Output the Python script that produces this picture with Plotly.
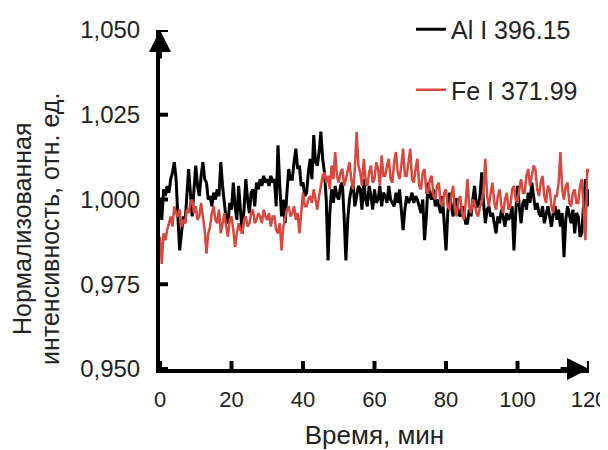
import plotly.graph_objects as go

# ---- data ----
time_step = 0.5
al_values = [
    1.000, 0.994, 1.003, 1.001, 1.004, 1.002, 1.006, 1.008, 1.011, 1.006,
    0.995, 0.985, 0.990, 0.995, 0.993, 1.001, 1.009, 1.002, 0.995, 1.003,
    1.010, 1.004, 1.001, 1.007, 1.011, 1.006, 1.005, 1.000, 1.001, 0.998,
    1.002, 1.000, 1.003, 1.001, 1.011, 1.004, 0.998, 0.994, 0.993, 0.999,
    0.997, 1.005, 0.998, 0.994, 1.004, 0.996, 0.990, 0.997, 1.006, 1.000,
    0.996, 1.002, 1.003, 0.998, 1.005, 1.003, 1.006, 1.004, 1.007, 1.005,
    1.006, 1.004, 1.007, 1.005, 1.006, 0.998, 1.016, 1.004, 0.995, 1.000,
    0.993, 1.002, 1.009, 1.006, 1.006, 1.011, 1.015, 1.009, 1.010, 1.004,
    1.005, 1.001, 1.002, 1.008, 1.012, 1.006, 1.019, 1.011, 1.010, 1.014,
    1.020, 1.012, 1.008, 1.000, 0.982, 0.996, 1.003, 0.999, 1.004, 1.001,
    1.000, 1.004, 1.005, 0.995, 0.982, 0.994, 1.000, 1.003, 1.005, 0.998,
    1.001, 1.004, 1.003, 0.997, 1.006, 1.000, 0.998, 1.004, 1.001, 0.997,
    1.003, 0.999, 1.000, 1.004, 0.998, 1.002, 1.001, 0.999, 1.004, 1.000,
    0.999, 0.998, 1.002, 0.999, 1.003, 0.997, 0.991, 0.997, 1.001, 0.999,
    1.000, 1.002, 0.999, 1.001, 1.000, 0.998, 0.996, 1.000, 0.988, 0.995,
    1.005, 1.001, 1.000, 1.003, 0.998, 1.000, 0.998, 0.996, 1.001, 0.994,
    0.985, 0.996, 1.002, 0.998, 0.995, 1.000, 1.000, 0.996, 0.995, 0.998,
    0.996, 0.993, 0.993, 0.997, 0.995, 1.000, 1.004, 0.998, 0.998, 1.001,
    1.008, 0.999, 0.993, 0.997, 0.998, 0.995, 0.996, 0.993, 0.990, 0.995,
    0.993, 0.997, 0.995, 0.992, 0.996, 0.994, 0.995, 0.998, 0.985, 0.996,
    1.004, 0.998, 0.993, 0.999, 1.000, 0.997, 1.002, 0.999, 1.005, 1.001,
    0.997, 0.999, 0.996, 0.995, 0.998, 0.993, 0.996, 0.998, 0.995, 0.992,
    0.996, 0.998, 0.994, 0.997, 0.992, 0.996, 0.983, 0.994, 0.998, 0.995,
    0.993, 0.997, 0.990, 0.996, 0.995, 0.989, 0.990, 0.999, 1.006, 0.998,
    1.003,
]
fe_values = [
    0.989, 0.981, 0.990, 0.988, 0.991, 0.993, 0.995, 0.992, 0.998, 0.996,
    0.995, 0.997, 0.992, 0.994, 0.993, 0.997, 0.996, 0.999, 1.000, 0.996,
    0.998, 0.994, 0.995, 0.999, 0.995, 0.991, 0.984, 0.990, 0.992, 0.996,
    0.998, 0.994, 0.993, 0.997, 0.990, 0.993, 0.996, 0.992, 0.989, 0.994,
    0.995, 0.991, 0.986, 0.990, 0.993, 0.991, 0.990, 0.994, 0.995, 0.992,
    0.993, 0.996, 0.997, 0.993, 0.994, 0.996, 0.995, 0.993, 0.997, 0.995,
    0.994, 0.996, 0.992, 0.995, 0.995, 0.991, 0.990, 0.993, 0.985, 0.992,
    0.995, 0.997, 0.998, 0.995, 0.996, 0.998, 0.994, 0.996, 0.990, 0.997,
    1.002, 0.998, 0.998, 1.000, 1.001, 0.999, 1.003, 1.000, 0.997, 1.001,
    1.004, 1.007, 1.008, 1.005, 1.007, 1.003, 1.010, 1.006, 1.014, 1.007,
    1.005, 1.008, 1.009, 1.004, 1.006, 1.009, 1.011, 1.006, 1.003, 1.009,
    1.020, 1.010, 1.008, 1.004, 1.012, 1.006, 1.004, 1.008, 1.010, 1.005,
    1.006, 1.011, 1.009, 1.004, 1.013, 1.007, 1.007, 1.010, 1.012, 1.006,
    1.005, 1.011, 1.014, 1.008, 1.006, 1.010, 1.015, 1.007, 1.007, 1.011,
    1.015, 1.006, 1.005, 1.009, 1.012, 1.004, 1.003, 1.008, 1.009, 1.002,
    1.002, 1.006, 1.007, 1.001, 1.000, 1.004, 1.005, 0.999, 0.998, 1.002,
    1.003, 0.998, 0.997, 1.001, 1.004, 0.997, 0.995, 1.000, 1.001, 0.996,
    0.994, 0.999, 1.006, 0.998, 0.996, 1.000, 0.999, 0.996, 0.995, 0.998,
    0.999, 1.003, 1.012, 1.001, 0.998, 1.002, 1.005, 0.999, 0.997, 1.001,
    1.003, 0.998, 0.996, 1.000, 1.002, 0.997, 0.998, 1.003, 1.004, 1.000,
    0.999, 1.003, 1.006, 1.002, 1.002, 1.007, 1.009, 1.004, 1.007, 1.010,
    1.009, 1.003, 1.001, 1.005, 1.007, 1.001, 0.999, 1.004, 1.003, 0.998,
    0.996, 1.001, 1.001, 1.005, 1.014, 1.003, 1.000, 1.004, 1.005, 0.999,
    0.998, 1.002, 1.003, 0.999, 0.999, 1.004, 1.006, 0.997, 0.988, 1.009,
    1.008,
]
time_min = [i * time_step for i in range(len(al_values))]

series_names = ["Al I 396.15", "Fe I 371.99"]
series_colors = ["#000000", "#d9483f"]

x_ticks = [0, 20, 40, 60, 80, 100, 120]
y_ticks = [0.950, 0.975, 1.000, 1.025, 1.050]
y_tick_labels = ["0,950", "0,975", "1,000", "1,025", "1,050"]

x_title = "Время, мин"
y_title_lines = ["Нормализованная", "интенсивность, отн. ед."]

FONT = "Liberation Sans, Arial, sans-serif"
TXT = "#222222"

fig = go.Figure()
fig.add_trace(go.Scatter(x=time_min, y=al_values, mode="lines", name=series_names[0],
                         line=dict(color=series_colors[0], width=3), legendgroup="a"))
fig.add_trace(go.Scatter(x=time_min, y=fe_values, mode="lines", name=series_names[1],
                         line=dict(color=series_colors[1], width=2.5), legendgroup="b"))

# crossing ticks
shapes = []
for v in y_ticks:
    shapes.append(dict(type="line", xref="x", yref="y", xsizemode="pixel", xanchor=0,
                       x0=-8, x1=8, y0=v, y1=v, line=dict(color="black", width=4)))
for v in x_ticks:
    shapes.append(dict(type="line", xref="x", yref="y", ysizemode="pixel", yanchor=0.95,
                       y0=-8, y1=8, x0=v, x1=v, line=dict(color="black", width=4)))

annotations = [
    dict(x=0, y=1.05, xref="x", yref="y", ax=0, ay=30, showarrow=True, arrowhead=2,
         arrowsize=1.1, arrowwidth=4, arrowcolor="black", text=""),
    dict(x=120, y=0.95, xref="x", yref="y", ax=-30, ay=0, showarrow=True, arrowhead=2,
         arrowsize=1.1, arrowwidth=4, arrowcolor="black", text=""),
]
for line_text, shift in zip(y_title_lines, [-138, -110]):
    annotations.append(dict(text=line_text, textangle=-90, xref="paper", yref="paper",
                            x=0, y=0.413, xanchor="center", yanchor="middle", xshift=shift,
                            showarrow=False, font=dict(size=25, color=TXT, family=FONT)))

fig.update_layout(
    width=608, height=442,
    margin=dict(l=152, r=27, t=22, b=81, autoexpand=False),
    paper_bgcolor="white", plot_bgcolor="white",
    font=dict(family=FONT, size=22, color=TXT),
    showlegend=True,
    legend=dict(x=0.585, y=1.069, xanchor="left", yanchor="top", bgcolor="rgba(0,0,0,0)",
                font=dict(size=25, color=TXT), tracegroupgap=25, traceorder="grouped"),
    shapes=shapes,
    annotations=annotations,
)
fig.update_xaxes(range=[0, 120], tickvals=x_ticks, showgrid=False, zeroline=False,
                 showline=True, linewidth=4, linecolor="black", ticks="", automargin=False,
                 ticklabelstandoff=8, tickfont=dict(size=22), ticklabeloverflow="allow",
                 title=dict(text=x_title, font=dict(size=26), standoff=24))
fig.update_yaxes(range=[0.95, 1.05], tickvals=y_ticks, ticktext=y_tick_labels,
                 showgrid=False, zeroline=False, showline=True, linewidth=4, automargin=False,
                 linecolor="black", ticks="", ticklabelstandoff=11, tickfont=dict(size=24))

fig.write_html("out.html")
